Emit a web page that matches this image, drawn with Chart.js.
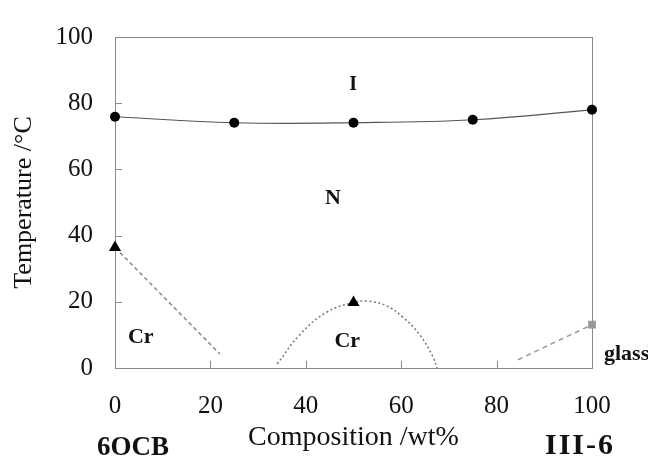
<!DOCTYPE html>
<html>
<head>
<meta charset="utf-8">
<title>6OCB / III-6 phase diagram</title>
<script src="https://cdn.jsdelivr.net/npm/chart.js@4.4.0/dist/chart.umd.min.js"></script>
<style>
    html, body { margin: 0; padding: 0; background: #fff; }
    #wrap { width: 648px; height: 457px; }
</style>
</head>
<body>
<div id="wrap"><canvas id="chart" width="648" height="457"></canvas></div>
<script>
// clearing points, N -> I (filled circles)
const clearX = [0, 25, 50, 75, 100];
const clearT = [75.9, 74.1, 74.1, 75.0, 78.0];

// melting of pure 6OCB (triangle + dashed line)
const meltX = [0, 22];
const meltT = [36.4, 4.2];

// melting of the 50 wt% mixture (dotted dome)
const mixX = [34, 38.7, 44.3, 50, 53, 56.9, 60.4, 63.9, 66.7, 67.5];
const mixT = [1.2, 10.0, 16.8, 19.8, 20.2, 18.8, 15.3, 10.0, 3.3, 0];

// glass transition of III-6 (grey square + dashed line)
const glassX = [84.5, 100];
const glassT = [2.5, 13.1];

// axis ticks
const xTicks = [0, 20, 40, 60, 80, 100];
const yTicks = [0, 20, 40, 60, 80, 100];

// phase labels inside the plot (in data units)
const phaseText = ['I', 'N', 'Cr', 'Cr'];
const phaseX = [49.9, 45.7, 5.4, 48.7];
const phaseY = [85.5, 51.4, 9.2, 8.1];

const serif = "'Liberation Serif', 'Times New Roman', serif";

function toPoints(xs, ys) {
    return xs.map((x, i) => ({ x: x, y: ys[i] }));
}

// frame round the plot and short inward tick marks
const framePlugin = {
    id: 'frame',
    beforeDatasetsDraw(chart) {
        const { ctx, chartArea: a, scales } = chart;
        ctx.save();
        ctx.strokeStyle = '#8a8a8a';
        ctx.lineWidth = 1;
        ctx.strokeRect(a.left + 0.5, a.top + 0.5, a.right - a.left, a.bottom - a.top);
        ctx.beginPath();
        yTicks.forEach(v => {
            const py = Math.round(scales.y.getPixelForValue(v)) + 0.5;
            ctx.moveTo(a.left, py);
            ctx.lineTo(a.left + 7, py);
        });
        xTicks.forEach(v => {
            const px = Math.round(scales.x.getPixelForValue(v)) + 0.5;
            ctx.moveTo(px, a.bottom);
            ctx.lineTo(px, a.bottom - 7);
        });
        ctx.stroke();
        ctx.restore();
    },
    afterDraw(chart) {
        const { ctx, chartArea: a, scales } = chart;
        ctx.save();
        ctx.fillStyle = '#111';
        ctx.textBaseline = 'middle';
        ctx.textAlign = 'center';
        phaseText.forEach((t, i) => {
            ctx.font = (t === 'I' ? 'bold 20px ' : 'bold 22px ') + serif;
            ctx.fillText(t, scales.x.getPixelForValue(phaseX[i]), scales.y.getPixelForValue(phaseY[i]));
        });
        // labels outside the frame
        ctx.font = 'bold 22px ' + serif;
        ctx.textAlign = 'left';
        ctx.fillText('glass', a.right + 12, scales.y.getPixelForValue(4));
        ctx.font = 'bold 27px ' + serif;
        ctx.textBaseline = 'alphabetic';
        ctx.fillText('6OCB', a.left - 18, 455);
        ctx.font = 'bold 30px ' + serif;
        ctx.textAlign = 'right';
        ctx.letterSpacing = '2px';
        ctx.fillText('III-6', a.right + 23, 454);
        ctx.restore();
    }
};

const ctx = document.getElementById('chart').getContext('2d');
const chart = new Chart(ctx, {
    type: 'scatter',
    data: {
        datasets: [
            {
                label: 'N-I',
                data: toPoints(clearX, clearT),
                showLine: true,
                tension: 0.4,
                borderColor: '#555',
                borderWidth: 1.2,
                pointStyle: 'circle',
                pointRadius: 5,
                pointBackgroundColor: '#000',
                pointBorderWidth: 0,
                clip: false
            },
            {
                label: '6OCB melting',
                data: toPoints(meltX, meltT),
                showLine: true,
                borderColor: '#888',
                borderWidth: 1.5,
                borderDash: [4, 3],
                pointStyle: 'triangle',
                pointRadius: [7, 0],
                pointBackgroundColor: '#000',
                pointBorderWidth: 0,
                clip: false
            },
            {
                label: 'mixture melting',
                data: toPoints(mixX, mixT),
                showLine: true,
                tension: 0.4,
                borderColor: '#777',
                borderWidth: 1.5,
                borderDash: [2, 2.5],
                pointStyle: 'triangle',
                pointRadius: mixX.map(x => (x === 50 ? 7 : 0)),
                pointBackgroundColor: '#000',
                pointBorderWidth: 0,
                clip: false
            },
            {
                label: 'glass',
                data: toPoints(glassX, glassT),
                showLine: true,
                borderColor: '#999',
                borderWidth: 1.5,
                borderDash: [5, 4],
                pointStyle: 'rect',
                pointRadius: [0, 5.5],
                pointBackgroundColor: '#999',
                pointBorderWidth: 0,
                clip: false
            }
        ]
    },
    options: {
        responsive: false,
        animation: false,
        events: [],
        layout: { padding: { top: 22, right: 56, left: 0, bottom: 0 } },
        plugins: {
            legend: { display: false },
            tooltip: { enabled: false }
        },
        scales: {
            x: {
                type: 'linear',
                min: 0,
                max: 100,
                afterBuildTicks: scale => { scale.ticks = xTicks.map(v => ({ value: v })); },
                afterFit: scale => { scale.height = 89; },
                grid: { display: false, drawTicks: false },
                border: { display: false },
                ticks: { color: '#111', padding: 23, font: { family: serif, size: 25 } },
                title: {
                    display: true,
                    text: 'Composition /wt%',
                    color: '#111',
                    padding: { top: 0, bottom: 3 },
                    font: { family: serif, size: 28 }
                }
            },
            y: {
                type: 'linear',
                min: 0,
                max: 100,
                afterBuildTicks: scale => { scale.ticks = yTicks.map(v => ({ value: v })); },
                afterFit: scale => { scale.width = 115; },
                grid: { display: false, drawTicks: false },
                border: { display: false },
                ticks: { color: '#111', padding: 22, font: { family: serif, size: 25 } },
                title: {
                    display: true,
                    text: 'Temperature /°C',
                    color: '#111',
                    padding: { top: 9, bottom: 0 },
                    font: { family: serif, size: 26 }
                }
            }
        }
    },
    plugins: [framePlugin]
});
</script>
</body>
</html>
